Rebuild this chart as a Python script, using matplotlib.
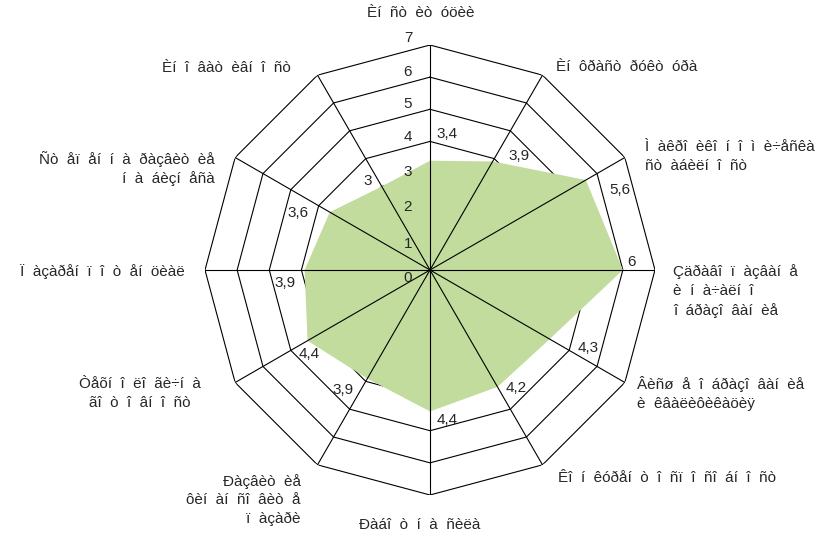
import numpy as np
import matplotlib
matplotlib.use("Agg")
import matplotlib.pyplot as plt

plt.rcParams['font.family'] = ['Liberation Sans', 'DejaVu Sans']

# Pillar names, clockwise from the top
categories = [
    "Èí  ñò  èò  óöèè",
    "Èí  ôðàñò  ðóêò  óðà",
    "Ì  àêðî  èêî  í  î  ì  è÷åñêà\nñò  àáèëí  î  ñò",
    "Çäðàâî  ï  àçâàí  å\nè  í  à÷àëí  î\nî  áðàçî  âàí  èå",
    "Âèñø  å  î  áðàçî  âàí  èå\nè  êâàëèôèêàöèÿ",
    "Êî  í  êóðåí  ò  î  ñï  î  ñî  áí  î  ñò",
    "Ðàáî  ò  í  à  ñèëà",
    "Ðàçâèò  èå\nôèí  àí  ñî  âèò  å\nï  àçàðè",
    "Òåõí  î  ëî  ãè÷í  à\nãî  ò  î  âí  î  ñò",
    "Ï  àçàðåí  ï  î  ò  åí  öèàë",
    "Ñò  åï  åí  í  à  ðàçâèò  èå\ní  à  áèçí  åñà",
    "Èí  î  âàò  èâí  î  ñò",
]
scores = [3.4, 3.9, 5.6, 6.0, 4.3, 4.2, 4.4, 3.9, 4.4, 3.9, 3.6, 3.0]
ring_values = [0, 1, 2, 3, 4, 5, 6, 7]

# Label placement (pixel offsets from the outer ring vertex / data point)
cat_offsets = [(-9, 32), (13, 8), (20, 1), (18, -21), (12, -11), (16, -13),
               (-10, -30), (-17, -35), (-95, -11), (-20, -2), (-20, -11), (-27, 7)]
cat_ha = ['center', 'left', 'left', 'left', 'left', 'left',
          'center', 'right', 'center', 'right', 'right', 'right']
val_offsets = [(17, 27), (26, 5), (34, -10), (9, 8), (38, -9), (19, -1),
               (17, -9), (-24, -11), (2, -13), (-20, -13), (-32, -1), (-14, 5)]
tick_offsets = [-8, -6, -1, 2, 4, 5, 5, 7]

W, H = 836, 538
fig = plt.figure(figsize=(W / 100, H / 100), dpi=100)
cx, cy, R = 430, 270, 225
ax = fig.add_axes([(cx - R) / W, (H - cy - R) / H, 2 * R / W, 2 * R / H],
                  projection='polar')
ax.set_theta_zero_location('N')
ax.set_theta_direction(-1)
ax.set_ylim(0, 7)
ax.grid(False)
ax.set_xticks([])
ax.set_yticks([])
ax.spines['polar'].set_visible(False)
ax.patch.set_alpha(0)

n = len(categories)
theta = np.arange(n) * 2 * np.pi / n
theta_closed = np.append(theta, theta[0])

line_kw = dict(color='#000000', lw=0.8)

# Polygonal grid rings (covered by the filled area)
for v in ring_values[1:]:
    ax.plot(theta_closed, [v] * (n + 1), zorder=1, **line_kw)

# Filled score area
ax.fill(theta_closed, scores + scores[:1], color='#c2dc9e', lw=0, zorder=2)

# Spokes on top of the fill
for t in theta:
    ax.plot([t, t], [0, ring_values[-1]], zorder=3, **line_kw)

txt_color = '#262626'
fs = 11

# Radial scale labels along the top spoke
for v, dy in zip(ring_values, tick_offsets):
    ax.annotate(str(v), xy=(0, v), xytext=(-22, dy), textcoords='offset pixels',
                ha='center', va='center', fontsize=fs, color=txt_color, zorder=4)

# Category labels
for t, lab, off, ha in zip(theta, categories, cat_offsets, cat_ha):
    ax.annotate(lab, xy=(t, ring_values[-1]), xytext=off, textcoords='offset pixels',
                ha=ha, va='center', multialignment='center' if ha == 'center' else ha,
                fontsize=fs, color=txt_color, linespacing=1.4, annotation_clip=False)

# Value labels
for t, s, off in zip(theta, scores, val_offsets):
    lab = f"{s:g}".replace('.', ',')
    ax.annotate(lab, xy=(t, s), xytext=off, textcoords='offset pixels',
                ha='center', va='center', fontsize=fs, color=txt_color, zorder=4)

fig.savefig('out.png', dpi=100)
